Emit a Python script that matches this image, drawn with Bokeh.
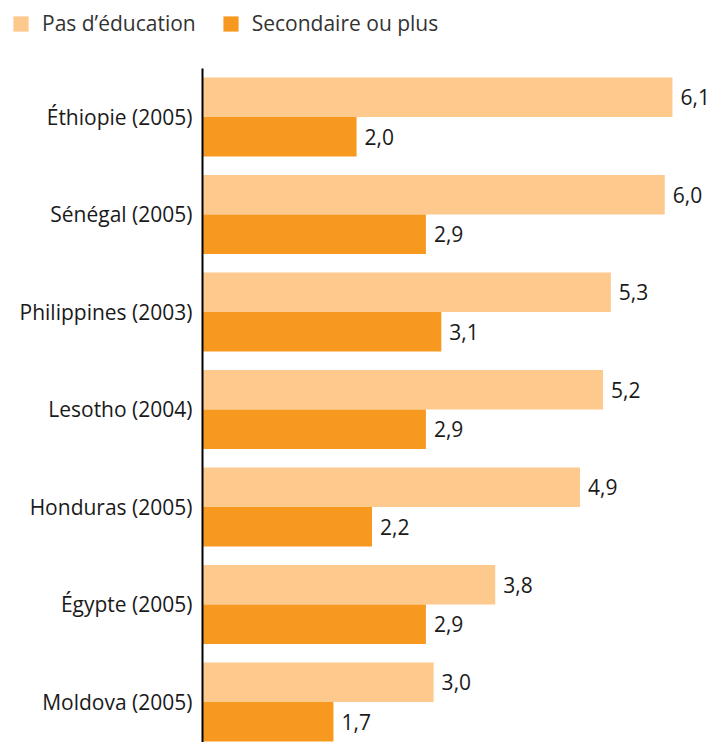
from bokeh.plotting import figure
from bokeh.layouts import column
from bokeh.models import Range1d, ColumnDataSource, Legend, LegendItem, FixedTicker
from bokeh.core.properties import value
from bokeh.embed import file_html
from bokeh.resources import INLINE

countries = ["Éthiopie (2005)", "Sénégal (2005)", "Philippines (2003)", "Lesotho (2004)",
             "Honduras (2005)", "Égypte (2005)", "Moldova (2005)"]
no_education = [6.1, 6.0, 5.3, 5.2, 4.9, 3.8, 3.0]
secondary = [2.0, 2.9, 3.1, 2.9, 2.2, 2.9, 1.7]
series_names = ["Pas d’éducation", "Secondaire ou plus"]

LIGHT = "#FDC98D"
DARK = "#F7991F"
FONT = "Open Sans"
FS = "21px"

n = len(countries)
pos = [n - 1 - i for i in range(n)]
off = 0.2025
hgt = 0.405

def fmt(v):
    return f"{v:.1f}".replace(".", ",")

src_a = ColumnDataSource(dict(y=[q + off for q in pos], v=no_education, lab=[fmt(v) for v in no_education]))
src_b = ColumnDataSource(dict(y=[q - off for q in pos], v=secondary, lab=[fmt(v) for v in secondary]))

# --- legend strip on top (series kept out of view; only the legend shows) ---
top = figure(width=712, height=68, output_backend="svg", toolbar_location=None,
             x_range=Range1d(1000, 1001), y_range=Range1d(1000, 1001), frame_align=False,
             min_border_left=0, min_border_right=0, min_border_top=0, min_border_bottom=0)
top.outline_line_color = None
top.axis.visible = False
top.grid.visible = False
la = top.hbar(y="y", left=0, right="v", height=hgt, source=src_a, color=LIGHT, line_color=None)
lb = top.hbar(y="y", left=0, right="v", height=hgt, source=src_b, color=DARK, line_color=None)
legend = Legend(items=[LegendItem(label=series_names[0], renderers=[la]),
                       LegendItem(label=series_names[1], renderers=[lb])],
                orientation="horizontal", location=(11, 31),
                glyph_width=19, glyph_height=19, label_standoff=12, spacing=25,
                padding=0, margin=0, border_line_alpha=0, background_fill_alpha=0,
                label_text_font=FONT, label_text_font_size=FS, label_text_color="#333333",
                label_height=19)
top.add_layout(legend, "center")

# --- main chart ---
p = figure(width=712, height=674, output_backend="svg", toolbar_location=None,
           x_range=Range1d(0, 6.62), y_range=Range1d(-0.416, 6.497), frame_align=False,
           min_border_left=202, min_border_right=0, min_border_top=0, min_border_bottom=0)
p.outline_line_color = None
p.xgrid.visible = False
p.ygrid.visible = False
p.xaxis.visible = False

p.hbar(y="y", left=0, right="v", height=hgt, source=src_a, color=LIGHT, line_color=None)
p.hbar(y="y", left=0, right="v", height=hgt, source=src_b, color=DARK, line_color=None)

for s in (src_a, src_b):
    p.text(x="v", y="y", text="lab", source=s, x_offset=8, text_baseline="middle",
           text_align="left", text_font=value(FONT), text_font_size=FS, text_color="#1a1a1a")

ax = p.yaxis[0]
ax.ticker = FixedTicker(ticks=pos)
ax.major_label_overrides = {q: c for q, c in zip(pos, countries)}
ax.major_tick_line_color = None
ax.minor_tick_line_color = None
ax.major_tick_out = 0
ax.major_tick_in = 0
ax.axis_line_color = "black"
ax.axis_line_width = 2
ax.major_label_standoff = 10
ax.major_label_text_font = FONT
ax.major_label_text_font_size = FS
ax.major_label_text_color = "#1a1a1a"

layout = column(top, p, spacing=0)
open("out.html", "w").write(file_html(layout, INLINE))
